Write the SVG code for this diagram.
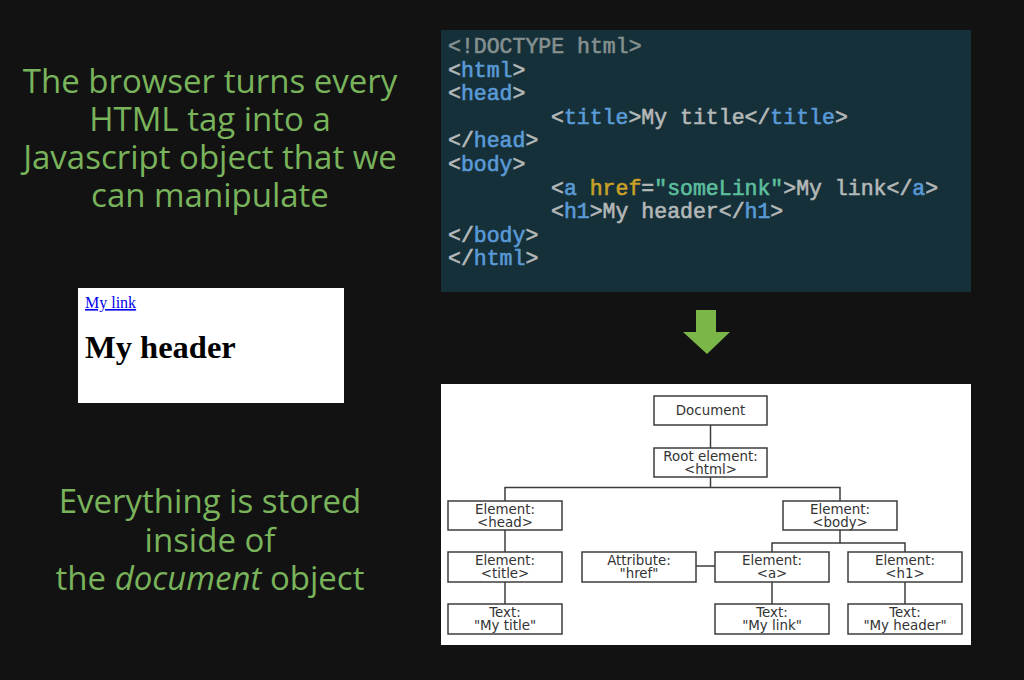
<svg xmlns="http://www.w3.org/2000/svg" width="1024" height="680" viewBox="0 0 1024 680">
<style>
.g{font-family:"Open Sans","DejaVu Sans",sans-serif;font-size:33px;fill:#79b35b;text-anchor:middle}
.code{font-family:"Liberation Mono","DejaVu Sans Mono",monospace;font-size:21.5px;fill:#b4b8b8;stroke:#b4b8b8;stroke-width:0.6}
.tag{fill:#5a9ad6;stroke:#5a9ad6}
.dt{fill:#85908f;stroke:#85908f}
.attr{fill:#c9a227;stroke:#c9a227}
.str{fill:#5cbf9c;stroke:#5cbf9c}
.box{fill:#fff;stroke:#3c3c3c;stroke-width:1.5}
.nt{font-family:"DejaVu Sans","Verdana",sans-serif;font-size:13.4px;fill:#333;text-anchor:middle}
.ln{stroke:#3c3c3c;stroke-width:1.5;fill:none}
</style>
<rect width="1024" height="680" fill="#121212"/>

<g id="intro-text">
<text class="g" x="210" y="93">The browser turns every</text>
<text class="g" x="210" y="131">HTML tag into a</text>
<text class="g" x="210" y="169">Javascript object that we</text>
<text class="g" x="210" y="207">can manipulate</text>
</g>

<g id="rendered-page">
<rect x="78" y="288" width="266" height="115" fill="#fff"/>
<text x="85" y="308" font-family="Liberation Serif,serif" font-size="16" fill="#0000ee" text-decoration="underline">My link</text>
<text x="85" y="358" font-family="Liberation Serif,serif" font-size="32.5" font-weight="bold" fill="#000">My header</text>
</g>

<g id="summary-text">
<text class="g" x="210" y="513">Everything is stored</text>
<text class="g" x="210" y="552">inside of</text>
<text class="g" x="210" y="590">the <tspan font-style="italic">document</tspan> object</text>
</g>

<g id="code-block">
<rect x="441" y="30" width="530" height="262" fill="#16303a"/>
<text class="code" x="448" y="53"><tspan class="dt">&lt;!DOCTYPE html&gt;</tspan></text>
<text class="code" x="448" y="76.6">&lt;<tspan class="tag">html</tspan>&gt;</text>
<text class="code" x="448" y="100.2">&lt;<tspan class="tag">head</tspan>&gt;</text>
<text class="code" x="551" y="123.8">&lt;<tspan class="tag">title</tspan>&gt;My title&lt;/<tspan class="tag">title</tspan>&gt;</text>
<text class="code" x="448" y="147.4">&lt;/<tspan class="tag">head</tspan>&gt;</text>
<text class="code" x="448" y="171">&lt;<tspan class="tag">body</tspan>&gt;</text>
<text class="code" x="551" y="194.6">&lt;<tspan class="tag">a</tspan> <tspan class="attr">href</tspan>=<tspan class="str">"someLink"</tspan>&gt;My link&lt;/<tspan class="tag">a</tspan>&gt;</text>
<text class="code" x="551" y="218.2">&lt;<tspan class="tag">h1</tspan>&gt;My header&lt;/<tspan class="tag">h1</tspan>&gt;</text>
<text class="code" x="448" y="241.8">&lt;/<tspan class="tag">body</tspan>&gt;</text>
<text class="code" x="448" y="265.4">&lt;/<tspan class="tag">html</tspan>&gt;</text>
</g>

<g id="down-arrow">
<polygon points="696,310 716,310 716,332 730,332 707,354 683,332 696,332" fill="#7ab648"/>
</g>

<g id="dom-tree">
<rect x="441" y="384" width="530" height="261" fill="#fff"/>
<g id="connectors">
<line class="ln" x1="710.5" y1="425" x2="710.5" y2="448"/>
<polyline class="ln" points="710.5,477 710.5,487.5"/>
<polyline class="ln" points="505,501 505,487.5 840,487.5 840,501"/>
<line class="ln" x1="505" y1="530" x2="505" y2="552"/>
<line class="ln" x1="505" y1="582" x2="505" y2="604"/>
<line class="ln" x1="840" y1="530" x2="840" y2="543"/>
<polyline class="ln" points="772,552 772,543 905,543 905,552"/>
<line class="ln" x1="696" y1="566" x2="715" y2="566"/>
<line class="ln" x1="772" y1="582" x2="772" y2="604"/>
<line class="ln" x1="905" y1="582" x2="905" y2="604"/>
</g>
<g id="n-document"><rect class="box" x="654" y="396" width="113" height="29"/><text class="nt" x="710.5" y="415">Document</text></g>
<g id="n-root"><rect class="box" x="654" y="448" width="113" height="29"/><text class="nt" x="710.5" y="461">Root element:</text><text class="nt" x="710.5" y="474">&lt;html&gt;</text></g>
<g id="n-head"><rect class="box" x="448" y="501" width="114" height="29"/><text class="nt" x="505" y="514">Element:</text><text class="nt" x="505" y="527">&lt;head&gt;</text></g>
<g id="n-body"><rect class="box" x="783" y="501" width="114" height="29"/><text class="nt" x="840" y="514">Element:</text><text class="nt" x="840" y="527">&lt;body&gt;</text></g>
<g id="n-title"><rect class="box" x="448" y="552" width="114" height="30"/><text class="nt" x="505" y="565">Element:</text><text class="nt" x="505" y="578">&lt;title&gt;</text></g>
<g id="n-attr"><rect class="box" x="582" y="552" width="114" height="30"/><text class="nt" x="639" y="565">Attribute:</text><text class="nt" x="639" y="578">"href"</text></g>
<g id="n-a"><rect class="box" x="715" y="552" width="114" height="30"/><text class="nt" x="772" y="565">Element:</text><text class="nt" x="772" y="578">&lt;a&gt;</text></g>
<g id="n-h1"><rect class="box" x="848" y="552" width="114" height="30"/><text class="nt" x="905" y="565">Element:</text><text class="nt" x="905" y="578">&lt;h1&gt;</text></g>
<g id="n-text-title"><rect class="box" x="448" y="604" width="114" height="30"/><text class="nt" x="505" y="617">Text:</text><text class="nt" x="505" y="630">"My title"</text></g>
<g id="n-text-link"><rect class="box" x="715" y="604" width="114" height="30"/><text class="nt" x="772" y="617">Text:</text><text class="nt" x="772" y="630">"My link"</text></g>
<g id="n-text-header"><rect class="box" x="848" y="604" width="114" height="30"/><text class="nt" x="905" y="617">Text:</text><text class="nt" x="905" y="630">"My header"</text></g>
</g>
</svg>
